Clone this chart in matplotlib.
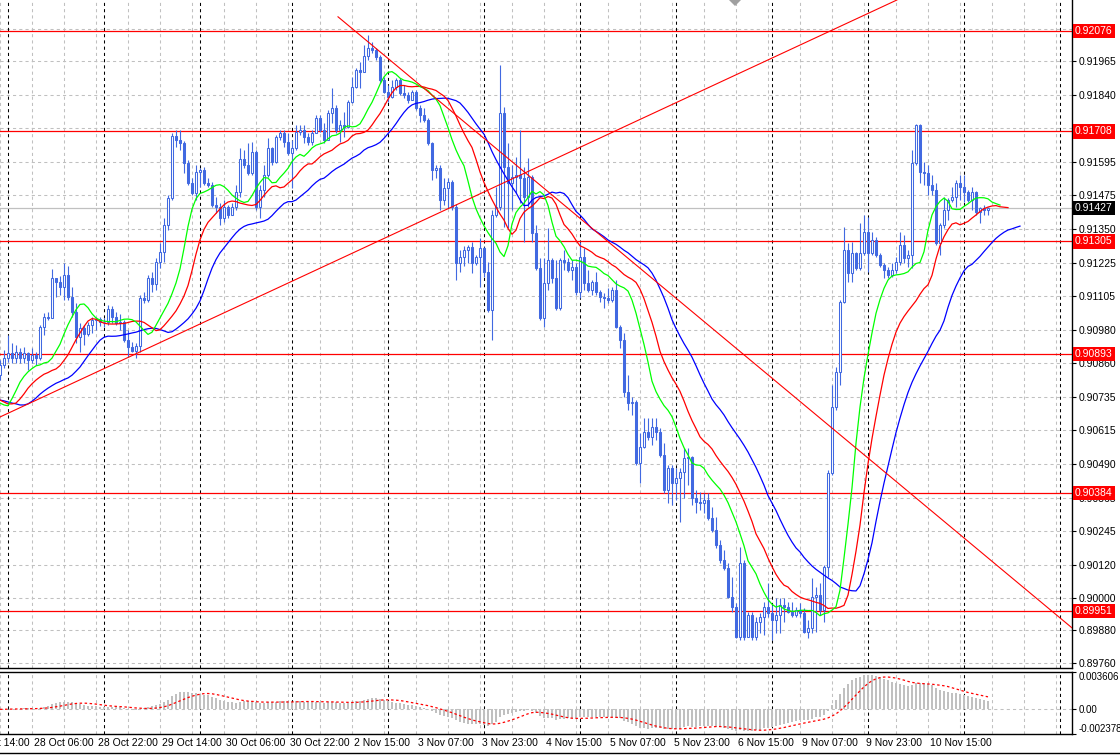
import matplotlib
matplotlib.use("Agg")
import matplotlib.pyplot as plt
import matplotlib.transforms as mtransforms
from matplotlib.patches import Polygon
from matplotlib.lines import Line2D
import numpy as np
import pandas as pd

plt.rcParams['font.family'] = ['Liberation Sans', 'DejaVu Sans']

# H1 bars, bar 0 = 27 Oct 22:00 (sits on the left edge of the chart)
first_open = 0.90816
closes = [
    0.90853, 0.90878, 0.90897, 0.90878, 0.90900, 0.90878, 0.90897, 0.90871, 0.90889, 0.90878,
    0.90992, 0.91028, 0.91025, 0.91171, 0.91157, 0.91138, 0.91182, 0.91102, 0.91047, 0.90955,
    0.90988, 0.90966, 0.90999, 0.91017, 0.91021, 0.91010, 0.91010, 0.91058, 0.91028, 0.91006,
    0.91010, 0.90944, 0.90919, 0.90904, 0.90922, 0.91098, 0.91091, 0.91171, 0.91149, 0.91230,
    0.91267, 0.91366, 0.91464, 0.91692, 0.91677, 0.91666, 0.91593, 0.91519, 0.91483, 0.91560,
    0.91567, 0.91519, 0.91512, 0.91439, 0.91432, 0.91391, 0.91432, 0.91402, 0.91432, 0.91486,
    0.91607, 0.91585, 0.91556, 0.91633, 0.91432, 0.91494, 0.91549, 0.91648, 0.91596, 0.91688,
    0.91703, 0.91670, 0.91629, 0.91648, 0.91706, 0.91714, 0.91688, 0.91670, 0.91703, 0.91758,
    0.91714, 0.91677, 0.91776, 0.91794, 0.91714, 0.91732, 0.91725, 0.91816, 0.91871, 0.91934,
    0.91926, 0.91985, 0.92014, 0.92007, 0.91981, 0.91897, 0.91853, 0.91835, 0.91871, 0.91897,
    0.91849, 0.91842, 0.91824, 0.91853, 0.91794, 0.91769, 0.91750, 0.91666, 0.91567, 0.91574,
    0.91457, 0.91501, 0.91523, 0.91432, 0.91226, 0.91248, 0.91274, 0.91285, 0.91226, 0.91248,
    0.91281, 0.91193, 0.91054, 0.91402, 0.91432, 0.91776, 0.91578, 0.91519, 0.91541, 0.91549,
    0.91538, 0.91468, 0.91541, 0.91336, 0.91208, 0.91025, 0.91153, 0.91237, 0.91171, 0.91061,
    0.91237, 0.91230, 0.91201, 0.91212, 0.91120, 0.91248, 0.91153, 0.91127, 0.91157, 0.91120,
    0.91102, 0.91098, 0.91091, 0.91127, 0.90992, 0.90944, 0.90754, 0.90713, 0.90717, 0.90494,
    0.90552, 0.90607, 0.90589, 0.90625, 0.90607, 0.90523, 0.90395, 0.90475, 0.90420, 0.90439,
    0.90461, 0.90512, 0.90516, 0.90365, 0.90351, 0.90347, 0.90358, 0.90292, 0.90248, 0.90193,
    0.90138, 0.90109, 0.90003, 0.89966, 0.89856, 0.90127, 0.89856, 0.89937, 0.89856, 0.89911,
    0.89929, 0.89966, 0.89944, 0.89918, 0.89937, 0.89973, 0.89966, 0.89948, 0.89937, 0.89955,
    0.89944, 0.89874, 0.89889, 0.90003, 0.90010, 0.89955, 0.90112, 0.90457, 0.90699, 0.90827,
    0.91083, 0.91274, 0.91190, 0.91263, 0.91208, 0.91263, 0.91340, 0.91263, 0.91311, 0.91256,
    0.91219, 0.91201, 0.91182, 0.91201, 0.91230, 0.91292, 0.91245, 0.91256, 0.91593, 0.91732,
    0.91560, 0.91556, 0.91512, 0.91494, 0.91300, 0.91366, 0.91421, 0.91457, 0.91468, 0.91519,
    0.91505, 0.91486, 0.91457, 0.91486, 0.91413, 0.91428, 0.91421, 0.91427,
]
highs = [
    0.90871, 0.90908, 0.90963, 0.90933, 0.90926, 0.90915, 0.90919, 0.90900, 0.90915, 0.90900,
    0.90999, 0.91043, 0.91047, 0.91204, 0.91171, 0.91179, 0.91226, 0.91215, 0.91138, 0.91080,
    0.91006, 0.90999, 0.91010, 0.91028, 0.91028, 0.91028, 0.91025, 0.91072, 0.91069, 0.91047,
    0.91039, 0.91017, 0.90981, 0.90937, 0.90933, 0.91109, 0.91120, 0.91182, 0.91193, 0.91245,
    0.91300, 0.91391, 0.91475, 0.91703, 0.91714, 0.91714, 0.91673, 0.91604, 0.91538, 0.91585,
    0.91574, 0.91578, 0.91538, 0.91523, 0.91468, 0.91446, 0.91457, 0.91439, 0.91446, 0.91512,
    0.91648, 0.91640, 0.91666, 0.91670, 0.91640, 0.91512, 0.91585, 0.91684, 0.91651, 0.91695,
    0.91714, 0.91714, 0.91703, 0.91677, 0.91732, 0.91732, 0.91732, 0.91703, 0.91714, 0.91769,
    0.91769, 0.91739, 0.91787, 0.91868, 0.91805, 0.91750, 0.91780, 0.91824, 0.91908, 0.91941,
    0.91963, 0.92025, 0.92062, 0.92036, 0.92014, 0.91988, 0.91908, 0.91879, 0.91897, 0.91904,
    0.91904, 0.91879, 0.91853, 0.91860, 0.91860, 0.91805, 0.91794, 0.91758, 0.91670, 0.91585,
    0.91585, 0.91538, 0.91538, 0.91530, 0.91442, 0.91274, 0.91289, 0.91292, 0.91303, 0.91256,
    0.91318, 0.91285, 0.91230, 0.91421, 0.91505, 0.91952, 0.91798, 0.91666, 0.91585, 0.91615,
    0.91714, 0.91578, 0.91611, 0.91549, 0.91366, 0.91245, 0.91245, 0.91355, 0.91245, 0.91237,
    0.91245, 0.91274, 0.91245, 0.91237, 0.91226, 0.91303, 0.91281, 0.91201, 0.91164, 0.91193,
    0.91127, 0.91116, 0.91135, 0.91138, 0.91164, 0.90999, 0.90970, 0.90816, 0.90735, 0.90724,
    0.90603, 0.90658, 0.90658, 0.90658, 0.90658, 0.90622, 0.90567, 0.90486, 0.90486, 0.90475,
    0.90475, 0.90548, 0.90548, 0.90520, 0.90395, 0.90387, 0.90384, 0.90384, 0.90332, 0.90296,
    0.90211, 0.90175, 0.90127, 0.90076, 0.89981, 0.90186, 0.90138, 0.89948, 0.89948, 0.89929,
    0.89944, 0.89984, 0.90054, 0.89973, 0.89999, 0.89999, 0.89999, 0.89984, 0.89984, 0.89966,
    0.89981, 0.89962, 0.89918, 0.90072, 0.90039, 0.90054, 0.90120, 0.90468, 0.90779, 0.90845,
    0.91091, 0.91358, 0.91300, 0.91303, 0.91267, 0.91373, 0.91402, 0.91395, 0.91340, 0.91322,
    0.91263, 0.91226, 0.91212, 0.91226, 0.91248, 0.91340, 0.91329, 0.91274, 0.91640, 0.91736,
    0.91736, 0.91596, 0.91585, 0.91549, 0.91519, 0.91373, 0.91468, 0.91464, 0.91505, 0.91530,
    0.91549, 0.91549, 0.91494, 0.91505, 0.91490, 0.91432, 0.91439, 0.91432,
]
lows = [
    0.90798, 0.90842, 0.90864, 0.90860, 0.90860, 0.90860, 0.90860, 0.90834, 0.90860, 0.90853,
    0.90871, 0.90963, 0.91017, 0.91025, 0.91102, 0.91109, 0.91091, 0.91091, 0.91028, 0.90933,
    0.90900, 0.90926, 0.90959, 0.90970, 0.90981, 0.90995, 0.90992, 0.90999, 0.91006, 0.90999,
    0.90981, 0.90937, 0.90882, 0.90900, 0.90878, 0.90900, 0.91080, 0.91083, 0.91120, 0.91127,
    0.91208, 0.91230, 0.91347, 0.91457, 0.91651, 0.91640, 0.91556, 0.91512, 0.91475, 0.91457,
    0.91505, 0.91512, 0.91505, 0.91432, 0.91410, 0.91366, 0.91377, 0.91391, 0.91402, 0.91421,
    0.91468, 0.91574, 0.91549, 0.91549, 0.91421, 0.91391, 0.91468, 0.91541, 0.91585, 0.91593,
    0.91677, 0.91651, 0.91622, 0.91501, 0.91640, 0.91695, 0.91666, 0.91659, 0.91659, 0.91703,
    0.91706, 0.91666, 0.91677, 0.91739, 0.91703, 0.91670, 0.91688, 0.91721, 0.91813, 0.91868,
    0.91868, 0.91926, 0.91970, 0.91996, 0.91970, 0.91886, 0.91849, 0.91816, 0.91831, 0.91860,
    0.91842, 0.91831, 0.91813, 0.91824, 0.91787, 0.91743, 0.91743, 0.91659, 0.91530, 0.91538,
    0.91421, 0.91439, 0.91428, 0.91421, 0.91164, 0.91193, 0.91215, 0.91226, 0.91190, 0.91219,
    0.91138, 0.91175, 0.91047, 0.90944, 0.91395, 0.91421, 0.91358, 0.91355, 0.91421, 0.91483,
    0.91446, 0.91303, 0.91432, 0.91303, 0.91201, 0.91017, 0.90992, 0.91127, 0.91153, 0.91054,
    0.91054, 0.91201, 0.91193, 0.91164, 0.91109, 0.91098, 0.91127, 0.91120, 0.91109, 0.91109,
    0.91083, 0.91061, 0.91080, 0.91083, 0.90988, 0.90915, 0.90735, 0.90688, 0.90669, 0.90486,
    0.90420, 0.90548, 0.90578, 0.90559, 0.90578, 0.90516, 0.90384, 0.90347, 0.90340, 0.90358,
    0.90277, 0.90365, 0.90413, 0.90340, 0.90310, 0.90321, 0.90310, 0.90285, 0.90241, 0.90182,
    0.90127, 0.90101, 0.89999, 0.89948, 0.89852, 0.89845, 0.89845, 0.89856, 0.89845, 0.89845,
    0.89871, 0.89863, 0.89929, 0.89845, 0.89871, 0.89871, 0.89911, 0.89944, 0.89929, 0.89929,
    0.89929, 0.89871, 0.89852, 0.89871, 0.89874, 0.89937, 0.89911, 0.90076, 0.90450, 0.90688,
    0.90779, 0.91080, 0.91157, 0.91157, 0.91201, 0.91201, 0.91256, 0.91193, 0.91256, 0.91248,
    0.91212, 0.91171, 0.91171, 0.91175, 0.91190, 0.91219, 0.91226, 0.91212, 0.91208, 0.91585,
    0.91519, 0.91512, 0.91475, 0.91475, 0.91292, 0.91256, 0.91355, 0.91384, 0.91450, 0.91432,
    0.91457, 0.91450, 0.91450, 0.91421, 0.91402, 0.91373, 0.91402, 0.91402,
]

# alligator values left of the first bar (read at the left edge)
jaw_lead = [0.90724, 0.90721, 0.90717, 0.90713, 0.90710, 0.90706, 0.90706, 0.90710]
teeth_lead = [0.90724, 0.90717, 0.90710, 0.90710, 0.90713]
lips_lead = [0.90713, 0.90706, 0.90703]

levels = [0.92076, 0.91708, 0.91305, 0.90893, 0.90384, 0.89951]
last_price = 0.91427
price_ticks = [0.92085, 0.91965, 0.91840, 0.91720, 0.91595, 0.91475, 0.91350, 0.91225,
               0.91105, 0.90980, 0.90860, 0.90735, 0.90615, 0.90490, 0.90365, 0.90245,
               0.90120, 0.90000, 0.89880, 0.89760]
hidden_ticks = [0.92085, 0.91720]   # covered by the level boxes
macd_ticks = [0.003606, 0.0, -0.002378]
macd_labels = ["0.003606", "0.00", "-0.002378"]

time_labels = ["27 Oct 14:00", "28 Oct 06:00", "28 Oct 22:00", "29 Oct 14:00", "30 Oct 06:00",
               "30 Oct 22:00", "2 Nov 15:00", "3 Nov 07:00", "3 Nov 23:00", "4 Nov 15:00",
               "5 Nov 07:00", "5 Nov 23:00", "6 Nov 15:00", "9 Nov 07:00", "9 Nov 23:00",
               "10 Nov 15:00"]
time_bars = [-8, 8, 24, 40, 56, 72, 88, 104, 120, 136, 152, 168, 184, 200, 216, 232]
separator_bars = [2, 26, 50, 73, 97, 121, 145, 169, 193, 217, 241, 265]

# trend lines: (bar, price) anchors
rise_bars, rise_prices = [0, 155], [0.90662, 0.91718]
fall_bars, fall_prices = [84.5, 265], [0.92128, 0.89926]

BLUE = '#4169E1'
GRID = '#c0c0c0'

W, H = 1120, 756
fig = plt.figure(figsize=(W / 100, H / 100), dpi=100)
fig.patch.set_facecolor('white')
ax = fig.add_axes([0, 88 / H, 1072 / W, 668 / H])
axm = fig.add_axes([0, 22 / H, 1072 / W, 62 / H])

n = len(closes)
x = np.arange(n)
c = np.array(closes)
o = np.r_[first_open, c[:-1]]
hi = np.maximum(np.array(highs), np.maximum(o, c))
lo = np.minimum(np.array(lows), np.minimum(o, c))

ax.set_xlim(0, 268)
axm.set_xlim(0, 268)
ax.set_ylim(0.897424, 0.921896)
axm.set_ylim(-0.002378, 0.003606)

# grid
grid_bars = np.arange(0, 268, 8)
for a in (ax, axm):
    a.set_xticks(grid_bars)
    a.set_xticklabels([])
    a.tick_params(axis='x', which='major', length=0)
    a.grid(True, color=GRID, linestyle=(0, (3, 3)), linewidth=0.75)
    a.set_axisbelow(True)
    for b in separator_bars:
        a.axvline(b, color='black', lw=0.75, ls=(0, (3, 3)), zorder=1)
    a.spines['left'].set_visible(False)
    for s in ('right', 'bottom', 'top'):
        a.spines[s].set_color('black')
        a.spines[s].set_linewidth(1)
ax.spines['top'].set_visible(False)

ax.yaxis.tick_right()
ax.set_yticks(price_ticks)
ax.set_yticklabels(["" if v in hidden_ticks else f"{v:.5f}" for v in price_ticks])
ax.tick_params(axis='y', length=3, pad=2, labelsize=7.5, colors='black')

axm.yaxis.tick_right()
axm.set_yticks(macd_ticks)
axm.set_yticklabels(macd_labels)
axm.tick_params(axis='y', length=3, pad=1.5, labelsize=7)
lbls = axm.get_yticklabels()
lbls[0].set_va('top')
lbls[2].set_va('bottom')
axm.set_xticks([b for b in time_bars if b >= 0], minor=True)
axm.tick_params(axis='x', which='minor', length=4, direction='out', width=0.8)

# horizontal levels and current price
blend = mtransforms.blended_transform_factory(ax.transAxes, ax.transData)
ax.axhline(last_price, color=GRID, lw=0.9, zorder=1.2)
for p in levels:
    ax.axhline(p, color='red', lw=0.9, zorder=1.5)
    ax.text(1 + 3 / 1072, p, f"{p:.5f}", transform=blend, color='white', fontsize=7.5,
            va='center', ha='left', clip_on=False, zorder=6,
            bbox=dict(boxstyle='square,pad=0.2', fc='red', ec='none'))
ax.text(1 + 3 / 1072, last_price, f"{last_price:.5f}", transform=blend, color='white',
        fontsize=7.5, va='center', ha='left', clip_on=False, zorder=6,
        bbox=dict(boxstyle='square,pad=0.2', fc='black', ec='none'))

# candles
up = c >= o
ax.vlines(x, lo, hi, color=BLUE, lw=0.8, zorder=2)
ax.bar(x[up], (c - o)[up], bottom=o[up], width=0.6, facecolor='white',
       edgecolor=BLUE, linewidth=0.75, zorder=2.1)
ax.bar(x[~up], (o - c)[~up], bottom=c[~up], width=0.6, facecolor=BLUE,
       edgecolor=BLUE, linewidth=0.75, zorder=2.1)


# alligator (smoothed MA of median price, shifted forward)
def smma(vals, period, start):
    out = np.empty(len(vals))
    s = start
    for i, v in enumerate(vals):
        s = (s * (period - 1) + v) / period
        out[i] = s
    return out


median = (hi + lo) / 2
jaw = np.r_[jaw_lead, smma(median, 13, jaw_lead[-1])]
teeth = np.r_[teeth_lead, smma(median, 8, teeth_lead[-1])]
lips = np.r_[lips_lead, smma(median, 5, lips_lead[-1])]
ax.plot(np.arange(len(jaw)), jaw, color='#0000ff', lw=0.9, zorder=3)
ax.plot(np.arange(len(teeth)), teeth, color='#ff0000', lw=0.9, zorder=3)
ax.plot(np.arange(len(lips)), lips, color='#00ff00', lw=0.9, zorder=3)

# trend lines
ax.axline((rise_bars[0], rise_prices[0]), (rise_bars[1], rise_prices[1]),
          color='red', lw=0.8, zorder=4)
slope = (fall_prices[1] - fall_prices[0]) / (fall_bars[1] - fall_bars[0])
ax.plot([fall_bars[0], 270], [fall_prices[0], fall_prices[0] + slope * (270 - fall_bars[0])],
        color='red', lw=0.8, zorder=4)

# MACD(12,26,9)
cs = pd.Series(c)
macd = cs.ewm(span=12, adjust=False).mean() - cs.ewm(span=26, adjust=False).mean()
signal = macd.rolling(9, min_periods=1).mean()
axm.bar(x, macd, width=0.4, color='#c0c0c0', zorder=2)
axm.plot(x, signal, color='red', lw=0.9, ls=(0, (2, 2)), zorder=3)

# time labels
tblend = mtransforms.blended_transform_factory(axm.transData, axm.transAxes)
for b, lab in zip(time_bars, time_labels):
    axm.text(b + 0.5, -0.06, lab, transform=tblend, ha='left', va='top',
             fontsize=7.5, clip_on=False)

# chart shift marker and window border
fig.add_artist(Polygon([(729 / W, 1.0), (741 / W, 1.0), (735 / W, 1 - 6 / H)],
                       closed=True, transform=fig.transFigure, fc='#a0a0a0', ec='none'))
fig.add_artist(Line2D([0, 1], [3 / H, 3 / H], transform=fig.transFigure,
                      color='black', lw=1))

fig.savefig('out.png', dpi=100, facecolor='white')
